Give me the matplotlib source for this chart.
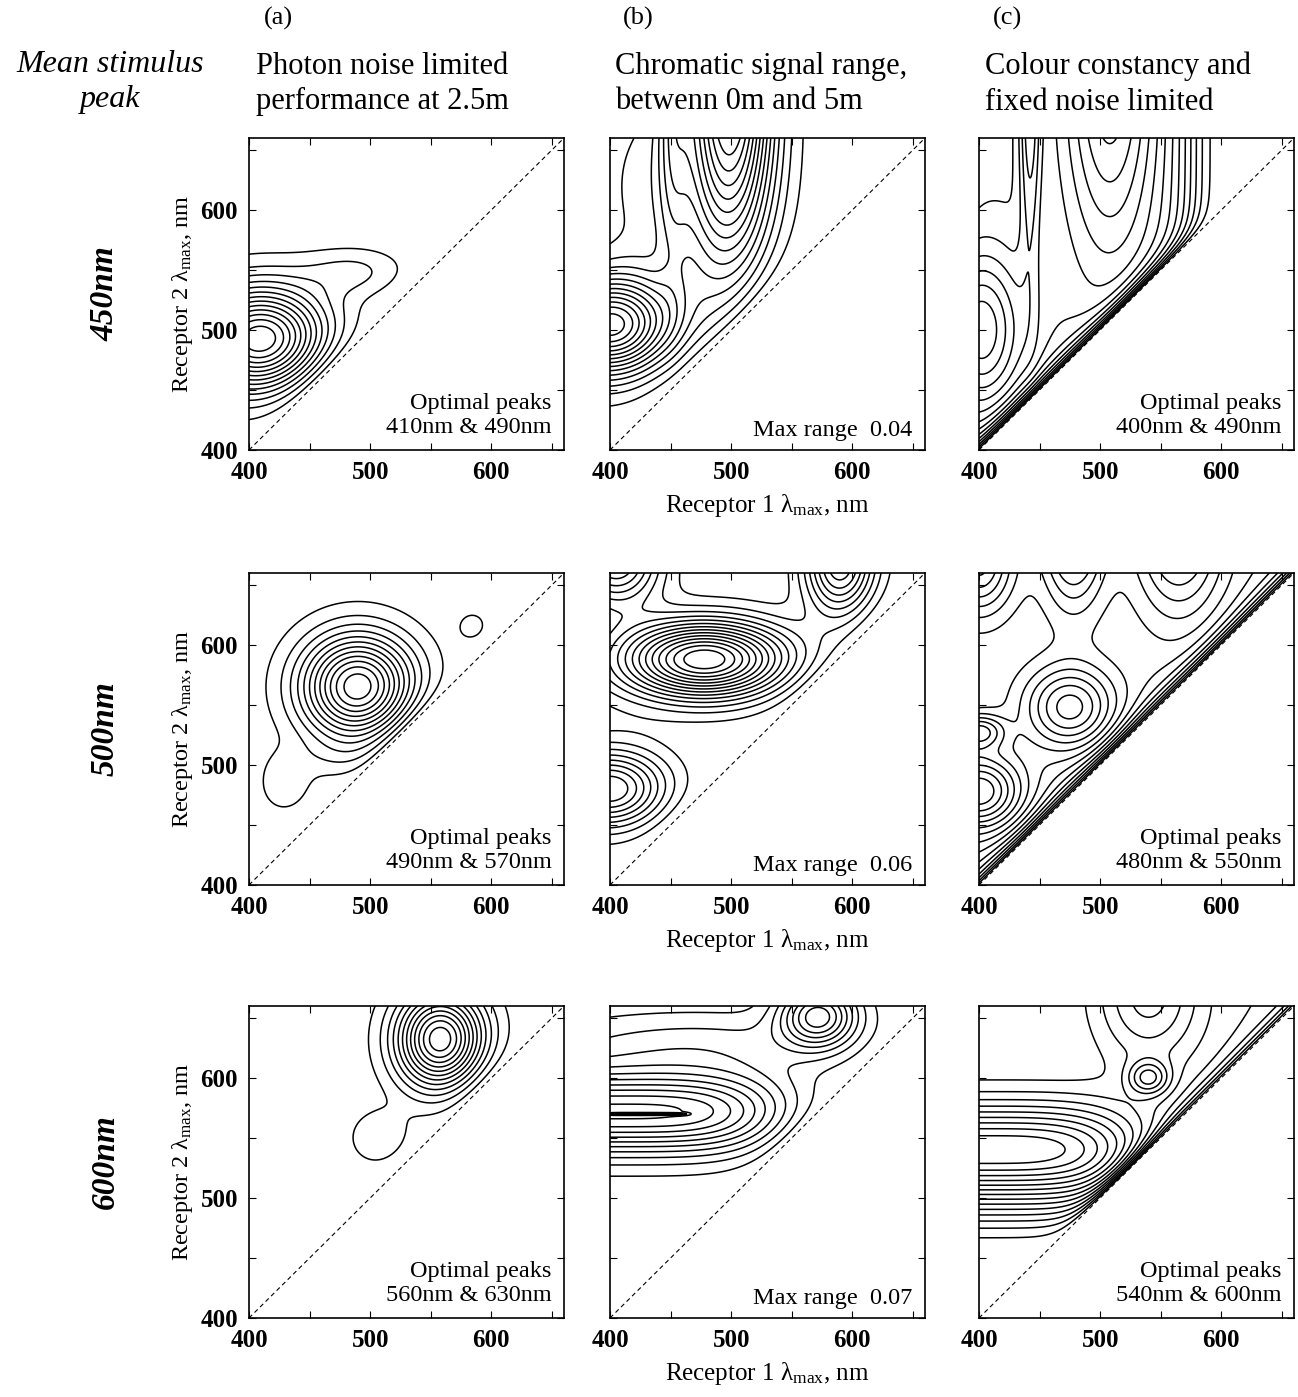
import numpy as np
import matplotlib
matplotlib.use('Agg')
import matplotlib.pyplot as plt
from matplotlib.ticker import FixedLocator, FuncFormatter

plt.rcParams['font.family'] = ['Liberation Serif', 'DejaVu Serif']
plt.rcParams['mathtext.fontset'] = 'custom'
plt.rcParams['mathtext.rm'] = 'Liberation Serif'
plt.rcParams['mathtext.it'] = 'Liberation Serif:italic'

# ---------------------------------------------------------------
# Values
# each surface = sum of bumps (cx, cy, sx, sy, amplitude, x exponent, y exponent)
# receptor 1 peak on x, receptor 2 peak on y, both in nm
# ---------------------------------------------------------------
STIMULUS_PEAKS = ['450nm', '500nm', '600nm']

A450 = [(410, 492, 38, 30, 1.00, 2, 2), (488, 548, 30, 14, 0.15, 2, 2)]
B450 = [(500, 720, 24, 110, 1.00, 2, 2), (452, 720, 9, 110, 0.22, 2, 2),
        (400, 503, 36, 28, 0.90, 2, 2), (440, 620, 55, 90, 0.22, 2, 2)]
C450 = [(470, 560, 100, 200, 0.60, 8, 8), (442, 720, 6, 110, 0.35, 2, 2),
        (508, 720, 26, 110, 0.50, 2, 2), (400, 500, 25, 45, 0.50, 2, 2)]

A500 = [(490, 565, 32, 30, 1.00, 2, 2), (430, 484, 14, 16, 0.13, 2, 2),
        (585, 615, 10, 10, 0.10, 2, 2), (490, 505, 40, 12, 0.07, 2, 2)]
B500 = [(478, 588, 48, 22, 1.00, 2, 2), (590, 668, 20, 30, 0.60, 2, 2),
        (405, 670, 25, 25, 0.55, 2, 2), (400, 480, 32, 22, 0.60, 2, 2)]
C500 = [(500, 560, 250, 250, 0.50, 6, 6), (475, 548, 26, 24, 0.45, 2, 2),
        (478, 700, 18, 45, 0.50, 2, 2), (565, 700, 25, 50, 0.45, 2, 2),
        (400, 528, 15, 10, 0.35, 2, 2), (400, 478, 25, 22, 0.55, 2, 2),
        (400, 670, 20, 30, 0.45, 2, 2)]

A600 = [(558, 632, 25, 28, 1.00, 2, 2), (508, 550, 17, 16, 0.14, 2, 2)]
B600 = [(400, 572, 118, 24, 1.00, 4, 2), (430, 570, 30, 0.7, 0.35, 8, 2),
        (572, 652, 22, 18, 0.80, 2, 2), (470, 630, 90, 18, 0.20, 2, 2)]
C600 = [(450, 610, 300, 120, 0.50, 8, 8), (400, 540, 108, 27, 1.00, 4, 2),
        (540, 600, 12, 10, 0.45, 2, 2), (540, 670, 30, 40, 0.45, 2, 2)]

SURFACES = [[A450, B450, C450], [A500, B500, C500], [A600, B600, C600]]
EDGE_SCALE = [[20, 25, 10], [15, 15, 11], [15, 15, 9]]
N_LEVELS = [[13, 14, 13], [12, 14, 14], [12, 13, 14]]

OPTIMAL_A = [('410nm', '490nm'), ('490nm', '570nm'), ('560nm', '630nm')]
MAX_RANGE = [0.04, 0.06, 0.07]
OPTIMAL_C = [('400nm', '490nm'), ('480nm', '550nm'), ('540nm', '600nm')]

COL_TAGS = ['(a)', '(b)', '(c)']
COL_TITLES = ['Photon noise limited\nperformance at 2.5m',
              'Chromatic signal range,\nbetwenn 0m and 5m',
              'Colour constancy and\nfixed noise limited']

LO, HI = 400, 660

# ---------------------------------------------------------------
W, H = 1298, 1397
fig = plt.figure(figsize=(W / 100, H / 100), dpi=100)

col_left = [249, 610, 979]
row_top = [138, 573, 1006]
aw, ah = 315, 312

g = np.linspace(LO, HI, 651)
X, Y = np.meshgrid(g, g)


def surface(bumps, edge):
    Z = np.zeros_like(X)
    for cx, cy, sx, sy, a, px, py in bumps:
        Z += a * np.exp(-0.5 * (np.abs((X - cx) / sx) ** px + np.abs((Y - cy) / sy) ** py))
    Z *= 1 - np.exp(-np.clip(Y - X, 0, None) / edge)
    return np.ma.masked_where(Y <= X, Z)


lab = FuncFormatter(lambda v, pos: f'{int(v)}' if v in (400, 500, 600) else '')

for r in range(3):
    for c in range(3):
        ax = fig.add_axes([col_left[c] / W, 1 - (row_top[r] + ah) / H, aw / W, ah / H])
        Z = surface(SURFACES[r][c], EDGE_SCALE[r][c])
        zmax = Z.max()
        levels = np.linspace(0.06, 0.94, N_LEVELS[r][c]) * zmax
        ax.contour(X, Y, Z, levels=levels, colors='k', linewidths=1.1)
        ax.plot([LO, HI], [LO, HI], color='k', ls=(0, (4, 3)), lw=0.8)
        ax.set_xlim(LO, HI)
        ax.set_ylim(LO, HI)
        for axis in (ax.xaxis, ax.yaxis):
            axis.set_major_locator(FixedLocator([400, 450, 500, 550, 600, 650]))
            axis.set_major_formatter(lab)
        ax.tick_params(direction='in', top=True, right=True, length=5,
                       labelsize=18, pad=8)
        for t in ax.get_xticklabels() + ax.get_yticklabels():
            t.set_fontweight('bold')
        if c > 0:
            ax.set_yticklabels([])
        for s in ax.spines.values():
            s.set_linewidth(1.2)

        if c == 0:
            ax.set_ylabel(r'Receptor 2 $\mathrm{\lambda_{max}}$, nm', fontsize=17.5, labelpad=4)
            txt = 'Optimal peaks\n%s & %s' % OPTIMAL_A[r]
            ty = 0.04
        elif c == 1:
            txt = 'Max range  %.2f' % MAX_RANGE[r]
            ty = 0.03
        else:
            txt = 'Optimal peaks\n%s & %s' % OPTIMAL_C[r]
            ty = 0.04
        ax.text(0.96, ty, txt, transform=ax.transAxes, ha='right', va='bottom',
                fontsize=17.5, linespacing=1.15)

        if c == 1:
            ax.set_xlabel(r'Receptor 1 $\mathrm{\lambda_{max}}$, nm', fontsize=18, labelpad=6)

    fig.text(105 / W, 1 - (row_top[r] + ah / 2) / H, STIMULUS_PEAKS[r], rotation=90,
             ha='center', va='center', fontsize=24, fontweight='bold', style='italic')

fig.text(110 / W, 1 - 82 / H, 'Mean stimulus\npeak', ha='center', va='center',
         fontsize=23, style='italic', linespacing=1.25)
tag_x = [256, 615, 985]
for c in range(3):
    fig.text((tag_x[c] + 8) / W, 1 - 18 / H, COL_TAGS[c], ha='left', va='center', fontsize=19)
    fig.text(tag_x[c] / W, 1 - 84 / H, COL_TITLES[c], ha='left', va='center',
             fontsize=22, linespacing=1.3)

fig.savefig('out.png', dpi=100)
